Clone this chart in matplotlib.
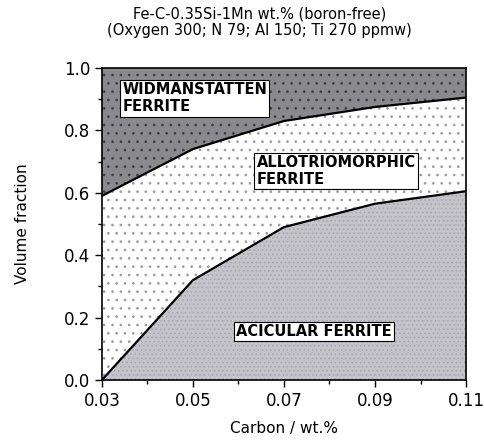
import numpy as np
import matplotlib
matplotlib.use("Agg")
import matplotlib.pyplot as plt

# --- data ---
carbon = [0.03, 0.05, 0.07, 0.09, 0.11]
acicular_top = [0.0, 0.32, 0.49, 0.565, 0.605]     # acicular ferrite fraction
allot_top = [0.59, 0.74, 0.83, 0.875, 0.905]       # acicular + allotriomorphic

xticks = [0.03, 0.05, 0.07, 0.09, 0.11]
yticks = [0.0, 0.2, 0.4, 0.6, 0.8, 1.0]

plt.rcParams["hatch.linewidth"] = 0.7

fig = plt.figure(figsize=(4.85, 4.44), dpi=100)
ax = fig.add_axes([0.210, 0.144, 0.751, 0.703])

# regions
ax.fill_between(carbon, 0, acicular_top, facecolor="#c4c4ca", edgecolor="#a8a8b0",
                hatch="....", linewidth=0)
ax.fill_between(carbon, acicular_top, allot_top, facecolor="white", edgecolor="#9a9aa4",
                hatch="..", linewidth=0)
ax.fill_between(carbon, allot_top, 1.0, facecolor="#8a8a8e", edgecolor="#3c3c44",
                hatch="..", linewidth=0)
ax.plot(carbon, acicular_top, color="black", lw=1.6)
ax.plot(carbon, allot_top, color="black", lw=1.6)

box = dict(boxstyle="square,pad=0.15", facecolor="white", edgecolor="black", lw=0.8)
fs_lab = 10.5
ax.text(0.0345, 0.955, "WIDMANSTATTEN\nFERRITE", fontsize=fs_lab, fontweight="bold",
        va="top", ha="left", bbox=box, linespacing=1.2)
ax.text(0.0640, 0.722, "ALLOTRIOMORPHIC\nFERRITE", fontsize=fs_lab, fontweight="bold",
        va="top", ha="left", bbox=box, linespacing=1.2)
ax.text(0.0595, 0.155, "ACICULAR FERRITE", fontsize=fs_lab, fontweight="bold",
        va="center", ha="left", bbox=box)

ax.set_xlim(0.03, 0.11)
ax.set_ylim(0.0, 1.0)
ax.set_xticks(xticks)
ax.set_xticklabels(["0.03", "0.05", "0.07", "0.09", "0.11"])
ax.set_yticks(yticks)
ax.set_yticklabels(["0.0", "0.2", "0.4", "0.6", "0.8", "1.0"])
ax.set_xticks(np.arange(0.04, 0.11, 0.02), minor=True)
ax.set_yticks(np.arange(0.1, 1.0, 0.2), minor=True)
ax.tick_params(which="major", length=5, width=1, labelsize=12, direction="out")
ax.tick_params(which="minor", length=3, width=1, direction="out")
for s in ax.spines.values():
    s.set_linewidth(1.2)

ax.set_xlabel("Carbon / wt.%", fontsize=11, labelpad=8)
ax.set_ylabel("Volume fraction", fontsize=11, labelpad=24)

fig.text(0.535, 0.985, "Fe-C-0.35Si-1Mn wt.% (boron-free)\n(Oxygen 300; N 79; Al 150; Ti 270 ppmw)",
         fontsize=10.5, ha="center", va="top", linespacing=1.15, fontweight="medium")

fig.savefig("out.png", dpi=100)
